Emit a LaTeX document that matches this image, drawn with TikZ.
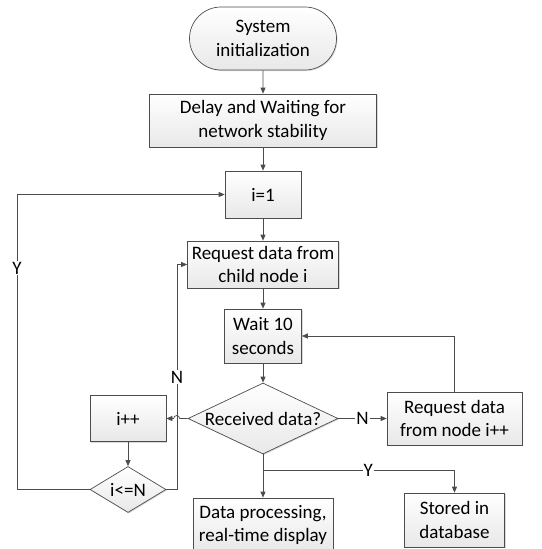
\documentclass[tikz,border=0pt]{standalone}
\usepackage{fontspec}
\setmainfont{Carlito}
\usetikzlibrary{positioning, arrows.meta, shapes.geometric, shapes.misc, shadows}

\begin{document}
\begin{tikzpicture}[
    x=1pt, y=-1pt, >={Triangle[length=6pt, width=5pt]}, line width=0.7pt, on grid,
    font=\fontsize{19}{23.5}\selectfont,
    base/.style={draw=black!70, top color=white, bottom color=black!9, align=center, inner sep=2pt,
        drop shadow={shadow xshift=1pt, shadow yshift=-1pt, opacity=0.3}},
    block/.style={base, rectangle},
    term/.style={base, rounded rectangle},
    decision/.style={base, diamond, inner sep=-6pt},
    link/.style={draw=black!70, ->},
    every edge/.style={link},
    lbl/.style={fill=white, inner sep=1pt}
]
    \useasboundingbox (0,0) rectangle (541,549);

    % main column
    \node[term, minimum width=151pt, minimum height=63pt] (start) at (263,38.5) {System\\initialization};
    \node[block, minimum width=227pt, minimum height=53pt] (delay) [below=82pt of start] {Delay and Waiting for\\network stability};
    \node[block, minimum width=76pt, minimum height=47pt] (init) [below=74pt of delay] {i=1};
    \node[block, minimum width=151pt, minimum height=47pt] (req) [below=70pt of init] {Request data from\\child node i};
    \node[block, minimum width=77pt, minimum height=54pt] (wait) [below=71.5pt of req] {Wait 10\\seconds};
    \node[decision, aspect=2.1, minimum width=150pt, minimum height=71pt] (recv) [below=82.5pt of wait] {Received data?};

    % side branches
    \node[block, minimum width=135pt, minimum height=53pt] (retry) [right=191.5pt of recv] {Request data\\from node i++};
    \node[block, minimum width=76pt, minimum height=46pt] (next) [left=135pt of recv] {i++};
    \node[decision, aspect=1.65, minimum width=76pt, minimum height=46pt] (check) [below=71pt of next] {i<=N};
    \node[block, minimum width=140pt, minimum height=54pt] (show) [below=106.5pt of recv] {Data processing,\\real-time display};
    \node[block, minimum width=100pt, minimum height=54pt] (store) [below=101.5pt of retry] {Stored in\\database};

    \coordinate (ylane) at (17,194.5);
    \coordinate (nlane) at (177,264.5);
    \coordinate (split) at (263,470);

    \path
        (start) edge (delay)
        (delay) edge (init)
        (init) edge (req)
        (req) edge (wait)
        (wait) edge (recv)
        (next) edge (check)
        (recv) edge node[lbl] {N} (retry);

    \draw[link] (retry.north) |- (wait.east);
    \draw[link] (recv.west) -- ++(-8pt,0) arc[start angle=0, end angle=180, radius=3pt] -- (next.east);
    \draw[link] (check.west) -| (ylane) node[lbl, pos=0.875] {Y} -- (init.west);
    \draw[link] (check.east) -| (nlane) node[lbl, pos=0.75] {N} -- (req.west);

    % received: store and show
    \draw[draw=black!70] (recv.south) -- (split);
    \draw[link] (split) -- (show.north);
    \draw[link] (split) -| node[lbl, pos=0.275] {Y} (store.north);
\end{tikzpicture}
\end{document}
